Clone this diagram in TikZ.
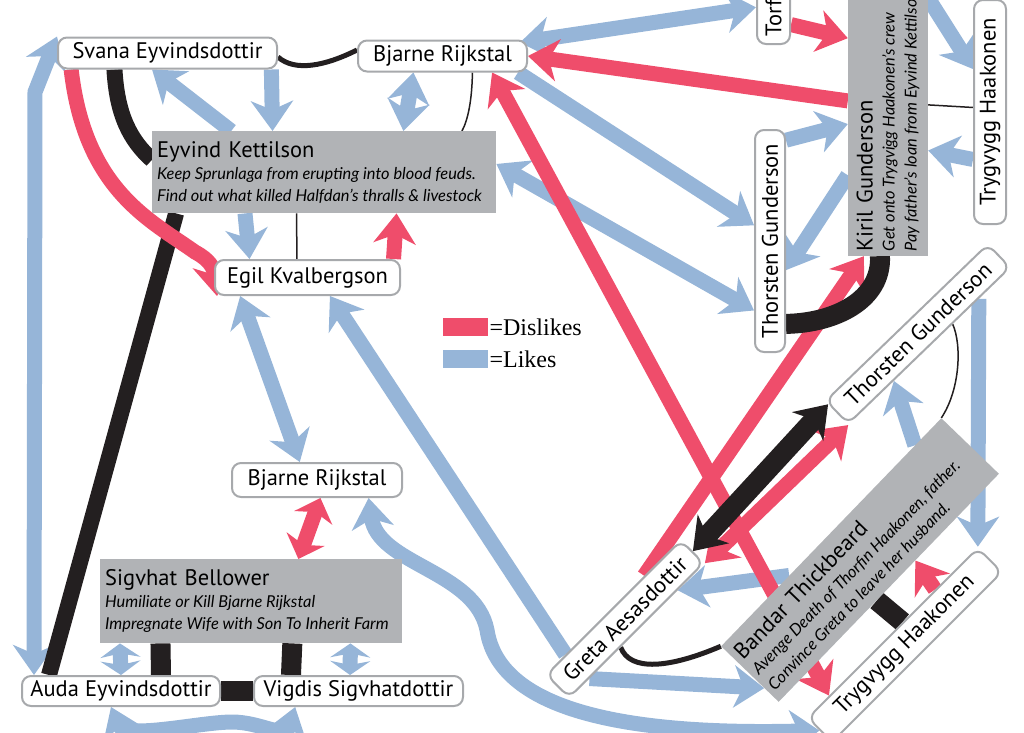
\documentclass[tikz,border=0pt]{standalone}
\usepackage{fontspec}
\setmainfont{PT Sans}
\newfontfamily\goalfont{Lato}
\newfontfamily\keyfont{Liberation Serif}
\usetikzlibrary{arrows.meta,calc,backgrounds}
\definecolor{likeblue}{HTML}{96B5D8}
\definecolor{dislikered}{HTML}{EF4D6B}
\definecolor{kinblack}{HTML}{231F20}
\definecolor{goalgray}{HTML}{B1B3B6}
\definecolor{rimgray}{HTML}{A7A9AC}
\newcommand{\namesize}{\fontsize{22.5}{22}\selectfont}
\newcommand{\goalline}[1]{\mbox{\goalfont\fontsize{16.4}{22}\selectfont\itshape\spaceskip=0pt\xspaceskip=0pt\relax #1}}
\tikzset{
  namebox/.style={draw=rimgray,line width=2pt,rounded corners=9pt,fill=white,font=\namesize,inner xsep=8pt,inner ysep=0pt,minimum height=31pt},
  goalbox/.style={fill=goalgray,align=left,inner xsep=5pt,inner ysep=3pt,font=\namesize},
  likes/.style={draw=likeblue,line width=15pt},
  dislikes/.style={draw=dislikered,line width=15pt},
  kin/.style={draw=kinblack,line width=18pt},
  kinmid/.style={draw=kinblack,line width=5pt},
  kinthin/.style={draw=kinblack,line width=1.5pt},
  shorttips/.style={>={Stealth[length=14pt,width=40pt,inset=4pt]}},
  midtips/.style={>={Stealth[length=21pt,width=40pt,inset=6pt]}},
  keybox/.style={minimum width=45pt,minimum height=18pt,inner sep=0pt},
  keytext/.style={font=\keyfont\fontsize{24}{26}\selectfont,inner sep=1pt,anchor=west}
}

\begin{document}
\begin{tikzpicture}[x=1pt,y=-1pt,>={Stealth[length=30pt,width=42pt,inset=9pt]}]
  \useasboundingbox (0,0) rectangle (1024,732);

  % people
  \node[namebox,minimum width=219pt] (svana) at (167.5,53) {Svana Eyvindsdottir};
  \node[namebox,minimum width=169pt] (bjarneA) at (442.5,56) {Bjarne Rijkstal};
  \node[namebox,minimum width=185pt,minimum height=35pt] (egil) at (307.5,277.5) {Egil Kvalbergson};
  \node[namebox,minimum width=170pt,minimum height=34pt] (bjarneB) at (317,480) {Bjarne Rijkstal};
  \node[namebox,minimum width=198pt,minimum height=30pt] (auda) at (121,691) {Auda Eyvindsdottir};
  \node[namebox,minimum width=209pt,minimum height=30pt] (vigdis) at (358.5,691) {Vigdis Sigvhatdottir};
  \node[namebox,rotate=90,align=left,text width=84pt,minimum height=33pt,anchor=west] (torf) at (773.5,45) {Torf};
  \node[namebox,rotate=90,minimum width=222pt,minimum height=30pt] (thorA) at (770,241) {Thorsten Gunderson};
  \node[namebox,rotate=90,minimum width=224pt,minimum height=32pt] (trygA) at (990,112) {Trygvygg Haakonen};
  \node[namebox,rotate=44,minimum width=225pt,minimum height=32pt] (thorB) at (918,334) {Thorsten Gunderson};
  \node[namebox,rotate=45,minimum width=190pt,minimum height=32pt] (greta) at (625,619) {Greta Aesasdottir};
  \node[namebox,rotate=45,minimum width=240pt,minimum height=34pt] (trygB) at (905,645) {Trygvygg Haakonen};

  % people with goals
  \node[goalbox,text width=334pt,minimum height=82pt,anchor=north west] (eyvind) at (152,131)
    {Eyvind Kettilson\\\goalline{Keep Sprunlaga from erupting into blood feuds.}\\\goalline{Find out what killed Halfdan’s thralls \& livestock}};
  \node[goalbox,text width=292pt,minimum height=84pt,anchor=north west] (sigvhat) at (100,559)
    {Sigvhat Bellower\\\goalline{Humiliate or Kill Bjarne Rijkstal}\\\goalline{Impregnate Wife with Son To Inherit Farm}};
  \node[goalbox,rotate=90,text width=320pt,minimum height=80pt] (kiril) at (888,91)
    {Kiril Gunderson\\\goalline{Get onto Trygvigg Haakonen’s crew}\\\goalline{Pay father’s loan from Eyvind Kettilson}};
  \node[goalbox,rotate=46,text width=307pt,minimum height=80pt] (bandar) at (860,560)
    {Bandar Thickbeard\\\goalline{Avenge Death of Thorfin Haakonen, father.}\\\goalline{Convince Greta to leave her husband.}};

  % key
  \node[keybox,fill=dislikered,anchor=north west] (dislikekey) at (443,318) {};
  \node[keybox,fill=likeblue,anchor=north west] (likekey) at (443,350) {};
  \node[keytext] (disliketext) at (dislikekey.east) {=Dislikes};
  \node[keytext] (liketext) at (likekey.east) {=Likes};

  \coordinate (offtop) at (885,-70);

  \begin{scope}[on background layer]
    % likes
    \draw[likes,<->] ($(auda.north west)!.065!(auda.north east)$) -- (35,92) -- (svana.north west);
    \draw[likes,->] ($(eyvind.north west)!.23!(eyvind.north east)$) -- ($(svana.south west)!.43!(svana.south east)$);
    \draw[likes,->] ($(svana.south west)!.97!(svana.south east)$) -- ($(eyvind.north west)!.35!(eyvind.north east)$);
    \draw[likes,<->] ($(bjarneA.south west)!.33!(bjarneA.south east)$) -- ($(eyvind.north west)!.73!(eyvind.north east)$);
    \draw[likes,->] ($(eyvind.south west)!.27!(eyvind.south east)$) -- ($(egil.north west)!.19!(egil.north east)$);
    \draw[likes,<->] ($(egil.south west)!.14!(egil.south east)$) -- ($(bjarneB.north west)!.4!(bjarneB.north east)$);
    \draw[likes,->] ($(greta.north west)!.15!(greta.north east)$) -- ($(egil.south west)!.62!(egil.south east)$);
    \draw[likes,<->] ($(bjarneB.south west)!.8!(bjarneB.south east)$) .. controls (378,565) and (475,570) .. (487,630)
      .. controls (500,715) and (640,735) .. (trygB.west);
    \draw[likes,<->] ($(auda.south west)!.45!(auda.south east)$) .. controls (125,740) and (200,722) .. (232,722)
      .. controls (262,722) and (285,740) .. ($(vigdis.south west)!.2!(vigdis.south east)$);
    \draw[likes,shorttips,<->] ($(sigvhat.south west)!.066!(sigvhat.south east)$) -- ($(auda.north west)!.5!(auda.north east)$);
    \draw[likes,shorttips,<->] ($(sigvhat.south west)!.828!(sigvhat.south east)$) -- ($(vigdis.north west)!.46!(vigdis.north east)$);
    \draw[likes,<->] ([xshift=-8pt,yshift=-3pt]bjarneA.north east) -- ($(torf.north west)!.37!(torf.north east)$);
    \draw[likes,->] ([xshift=-10pt]bjarneA.south east) -- ($(thorA.north west)!.57!(thorA.north east)$);
    \draw[likes,<->] ($(eyvind.north east)!.4!(eyvind.south east)$) -- ($(thorA.north west)!.19!(thorA.north east)$);
    \draw[likes,->] ($(thorA.south east)!.05!(thorA.south west)$) -- ($(kiril.north west)!.4!(kiril.north east)$);
    \draw[likes,->] ($(kiril.north west)!.245!(kiril.north east)$) -- ($(thorA.south east)!.63!(thorA.south west)$);
    \draw[likes,->] ($(trygA.north west)!.29!(trygA.north east)$) -- ($(kiril.south west)!.32!(kiril.south east)$);
    \draw[likes,->] (offtop) -- ($(trygA.north west)!.69!(trygA.north east)$);
    \draw[likes,->] ($(thorB.south east)!.2!(thorB.south west)$) -- (trygB.north east);
    \draw[likes,->] ($(bandar.north east)!.12!(bandar.north west)$) -- ($(thorB.south east)!.72!(thorB.south west)$);
    \draw[likes,->] ($(bandar.north east)!.69!(bandar.north west)$) -- ($(greta.south east)!.2!(greta.south west)$);
    \draw[likes,->] ($(greta.south east)!.85!(greta.south west)$) -- ($(bandar.north west)!.75!(bandar.south west)$);

    % kin
    \draw[kinmid] ([yshift=-4pt]svana.east) .. controls (295,72) and (325,66) .. ([yshift=6pt]bjarneA.west);
    \draw[kin,line width=16pt] ($(svana.south west)!.26!(svana.south east)$) .. controls (117,115) and (130,140) .. ($(eyvind.north west)!.35!(eyvind.south west)$);
    \draw[kin,line width=16pt] ($(eyvind.south west)!.07!(eyvind.south east)$) -- ($(auda.north west)!.14!(auda.north east)$);
    \draw[kin,line width=20pt] ($(sigvhat.south west)!.2!(sigvhat.south east)$) -- ($(auda.north west)!.7!(auda.north east)$);
    \draw[kin,line width=20pt] ($(sigvhat.south west)!.636!(sigvhat.south east)$) -- ($(vigdis.north west)!.18!(vigdis.north east)$);
    \draw[kin,line width=20pt] (auda.east) -- (vigdis.west);
    \draw[kinthin] ($(eyvind.south west)!.42!(eyvind.south east)$) -- ($(egil.north west)!.443!(egil.north east)$);
    \draw[kinthin] ($(bjarneA.south west)!.675!(bjarneA.south east)$) .. controls (472,100) and (468,120) .. ($(eyvind.north west)!.9!(eyvind.north east)$);
    \draw[kinthin] ($(kiril.south west)!.458!(kiril.south east)$) -- ($(trygA.north west)!.52!(trygA.north east)$);
    \draw[kinthin] ($(thorB.south east)!.36!(thorB.south west)$) .. controls (962,345) and (960,390) .. (bandar.north east);
    \draw[kinmid] ($(greta.south east)!.62!(greta.south west)$) .. controls (630,672) and (670,668) .. (bandar.north west);
    \draw[kin,line width=20pt] ($(bandar.south west)!.445!(bandar.south east)$) -- ($(trygB.north west)!.56!(trygB.north east)$);

    % dislikes
    \draw[dislikes,->] ($(svana.south west)!.064!(svana.south east)$) .. controls (85,190) and (150,220) .. (195,252)
      .. controls (210,260) and (214,268) .. ([xshift=3pt]egil.south west);
    \draw[dislikes,->] ($(egil.north west)!.96!(egil.north east)$) -- ($(eyvind.south west)!.71!(eyvind.south east)$);
    \draw[dislikes,->] ($(kiril.north west)!.47!(kiril.north east)$) -- (bjarneA.east);
    \draw[dislikes,->] ($(torf.south west)!.2!(torf.south east)$) -- ($(kiril.north west)!.66!(kiril.north east)$);
    \draw[dislikes,<->] ($(bjarneA.south west)!.79!(bjarneA.south east)$) -- ($(trygB.north west)!.13!(trygB.north east)$);
    \draw[dislikes,->] ($(greta.north west)!.73!(greta.north east)$) -- ($(kiril.north west)!.2!(kiril.south west)$);
    \draw[dislikes,<->] (greta.south east) -- (thorB.south west);
    \draw[dislikes,->] ($(trygB.north west)!.75!(trygB.north east)$) -- ($(bandar.south west)!.62!(bandar.south east)$);
    \draw[dislikes,midtips,<->] ($(sigvhat.north west)!.656!(sigvhat.north east)$) -- ($(bjarneB.south west)!.52!(bjarneB.south east)$);

    % kin over the rest
    \draw[kin,line width=20pt] ($(kiril.north west)!.4!(kiril.south west)$) .. controls (882,300) and (835,323) .. ($(thorA.south east)!.87!(thorA.south west)$);
    \draw[kin,line width=20pt,<->] (greta.east) -- ($(thorB.north west)!.3!(thorB.west)$);
  \end{scope}
\end{tikzpicture}
\end{document}
